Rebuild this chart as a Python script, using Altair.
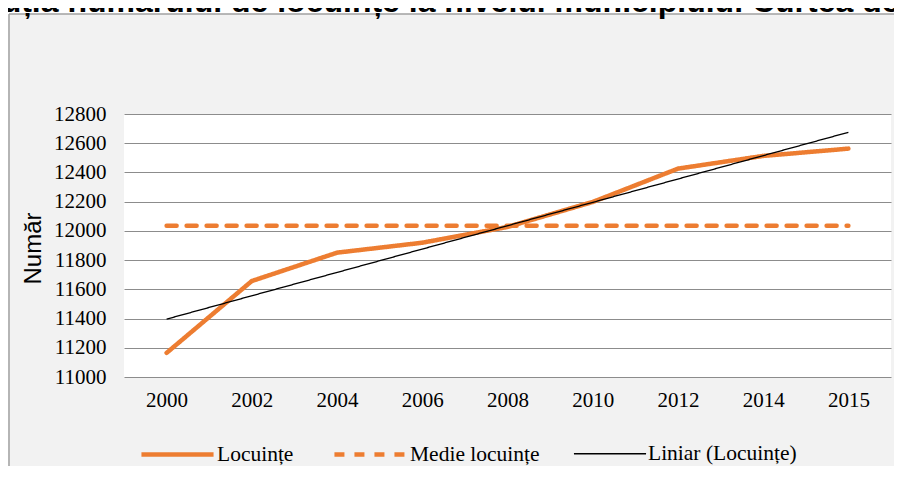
import json
import altair as alt
import pandas as pd

# ---- data ----
years = ["2000", "2002", "2004", "2006", "2008", "2010", "2012", "2014", "2015"]
locuinte = [11165, 11657, 11851, 11919, 12027, 12198, 12426, 12513, 12563]
series_labels = ["Locuințe", "Medie locuințe", "Liniar (Locuințe)"]
series_colors = ["#ED7D31", "#ED7D31", "#000000"]
series_dashes = [[1, 0], [10, 10], [1, 0]]
series_widths = [4.5, 4.5, 1.3]
y_ticks = [11000, 11200, 11400, 11600, 11800, 12000, 12200, 12400, 12600, 12800]
title_text = "Evoluția numărului de locuințe la nivelul municipiului Curtea de Argeș"
y_title = "Număr"

df = pd.DataFrame({"idx": list(range(len(years))), "an": years, "valoare": locuinte})
one = pd.DataFrame({"k": [0]})

W, H = 767, 263
PAD_L, PAD_T = 116, 106
TOTAL_W, TOTAL_H = 886, 458
# page coordinates of the plot origin = (8 + PAD_L, 8 + PAD_T) = (124, 114)
RIGHT_EDGE = TOTAL_W - PAD_L
FRAME_X, FRAME_Y = 9 - 124, 14 - 114
FRAME = "#a0a0a0"
GRAY = "#f2f2f2"

serif = "Liberation Serif"
sans = "Liberation Sans"

legend = alt.Legend(
    orient="none", legendX=15, legendY=302, direction="horizontal", title=None,
    symbolType="stroke", symbolSize=5200, labelFont=serif, labelFontSize=21.5,
    labelColor="black", labelOffset=1, labelLimit=0, columnPadding=31, padding=0,
)

def series_enc():
    return dict(
        color=alt.Color("serie:N", scale=alt.Scale(domain=series_labels, range=series_colors), legend=legend),
        strokeDash=alt.StrokeDash("serie:N", scale=alt.Scale(domain=series_labels, range=series_dashes), legend=legend),
        strokeWidth=alt.StrokeWidth("serie:N", scale=alt.Scale(type="ordinal", domain=series_labels, range=series_widths), legend=legend),
    )

x_enc = alt.X(
    "idx:Q",
    scale=alt.Scale(domain=[-0.5, len(years) - 0.5], nice=False, zero=False),
    axis=alt.Axis(
        values=list(range(len(years))),
        labelExpr=f"{json.dumps(years)}[datum.value]",
        title=None, grid=False, ticks=False, domain=False,
        labelFont=serif, labelFontSize=21, labelColor="black",
        labelPadding=23, labelBaseline="middle", labelOverlap=False,
    ),
)

y_scale = alt.Scale(domain=[y_ticks[0], y_ticks[-1]], nice=False, zero=False)

y_axis = alt.Axis(
    values=y_ticks, format="d", title=y_title,
    titleFont=sans, titleFontSize=24, titleFontWeight="normal", titleColor="black",
    titleX=-84, titleY=134, titleAngle=270, titleAlign="center", titleBaseline="alphabetic",
    grid=True, gridColor="#8c8c8c", gridWidth=1, ticks=False, domain=False,
    labelFont=serif, labelFontSize=21, labelColor="black", labelPadding=18,
)

# frame decorations: white strip above the box and the box border
strip = alt.Chart(one).mark_rect(color="white").encode(
    x=alt.value(-PAD_L), x2=alt.value(RIGHT_EDGE), y=alt.value(-PAD_T), y2=alt.value(FRAME_Y)
)
border_top = alt.Chart(one).mark_rule(color=FRAME, strokeWidth=1.5).encode(
    x=alt.value(FRAME_X), x2=alt.value(RIGHT_EDGE), y=alt.value(FRAME_Y)
)
border_left = alt.Chart(one).mark_rule(color=FRAME, strokeWidth=1.5).encode(
    x=alt.value(FRAME_X), y=alt.value(FRAME_Y), y2=alt.value(TOTAL_H - PAD_T)
)
title_mark = alt.Chart(one).mark_text(
    font=sans, fontSize=32, fontWeight="bold", color="black", align="center", baseline="alphabetic"
).encode(x=alt.value(466 - 124), y=alt.value(12 - 114), text=alt.value(title_text))

line_main = alt.Chart(df).mark_line(strokeCap="round", strokeJoin="round").transform_calculate(
    serie=json.dumps(series_labels[0])
).encode(x=x_enc, y=alt.Y("valoare:Q", scale=y_scale, axis=y_axis), **series_enc())

line_mean = alt.Chart(df).mark_line(strokeCap="round").transform_joinaggregate(
    media="mean(valoare)"
).transform_calculate(
    serie=json.dumps(series_labels[1])
).encode(x=x_enc, y=alt.Y("media:Q", scale=y_scale, axis=y_axis), **series_enc())

line_trend = alt.Chart(df).mark_line().transform_regression(
    "idx", "valoare", method="linear"
).transform_calculate(
    serie=json.dumps(series_labels[2])
).encode(x=x_enc, y=alt.Y("valoare:Q", scale=y_scale, axis=y_axis), **series_enc())

chart = alt.layer(
    strip, border_top, border_left, title_mark,
    line_mean, line_main, line_trend
).properties(
    width=W, height=H,
    autosize=alt.AutoSizeParams(type="none"),
    padding={"left": PAD_L, "top": PAD_T, "right": TOTAL_W - PAD_L - W, "bottom": TOTAL_H - PAD_T - H},
    background=GRAY,
).configure_view(stroke=None, fill="white")

chart.save("out.html", embed_options={"renderer": "svg", "actions": False})
